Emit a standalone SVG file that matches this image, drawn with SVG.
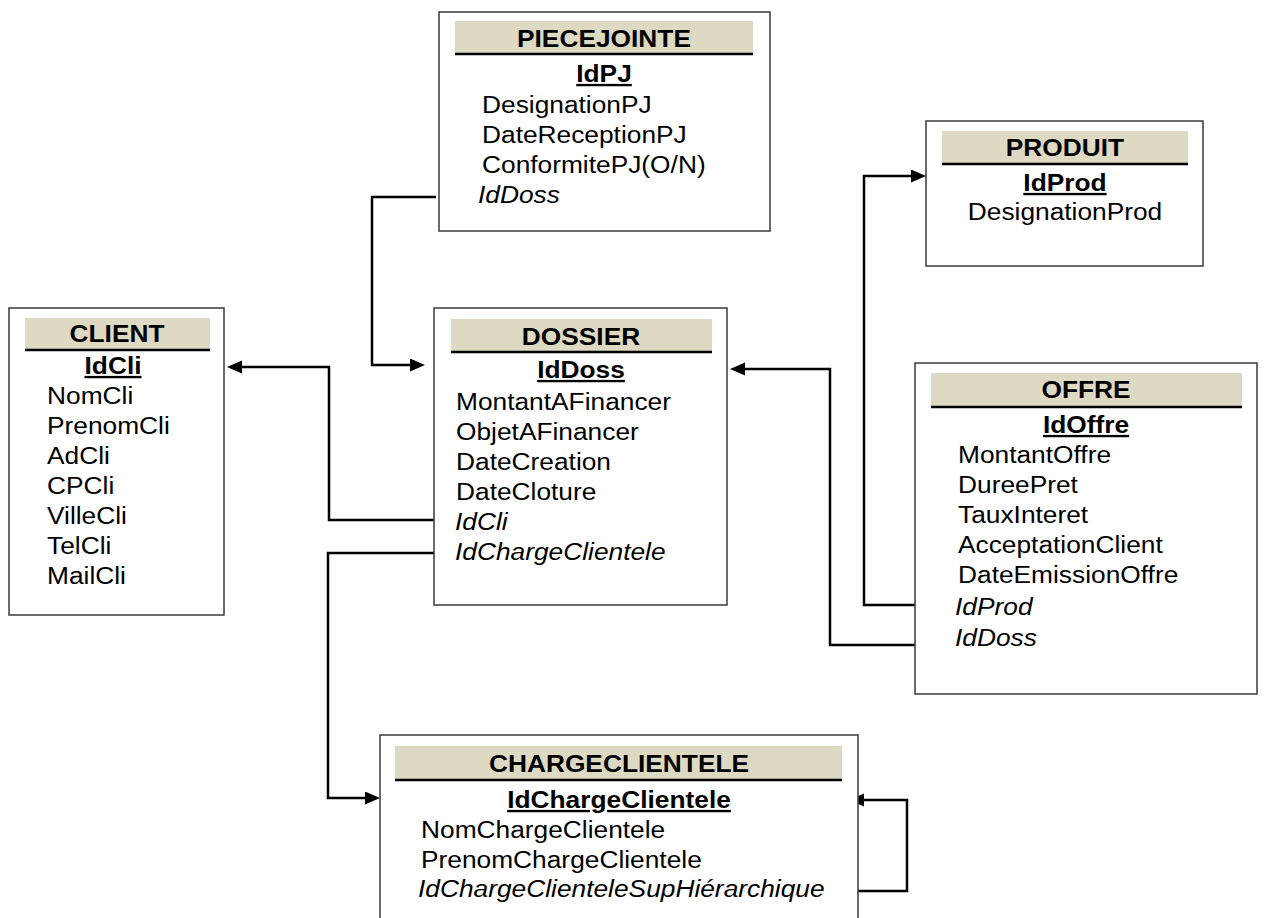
<svg xmlns="http://www.w3.org/2000/svg" width="1265" height="918" viewBox="0 0 1265 918">
<defs>
<style>
.box{fill:#fff;stroke:#3a3a3a;stroke-width:1.5}
.band{fill:#ddd9c3}
.bl{stroke:#000;stroke-width:2.5}
text{font-family:"Liberation Sans",Arial,sans-serif;font-size:23.5px;fill:#000}
.t{font-weight:bold;text-anchor:middle}
.pk{font-weight:bold;text-anchor:middle;text-decoration:underline}
.fk{font-style:italic}
.c{fill:none;stroke:#000;stroke-width:2.5}
</style>
<marker id="ah" markerUnits="userSpaceOnUse" markerWidth="16" markerHeight="14" refX="7" refY="6.5" orient="auto">
<path d="M0,0 L15,6.5 L0,13 z" fill="#000"/>
</marker>
</defs>
<rect width="1265" height="918" fill="#fff"/>

<g id="connectors">
<path class="c" d="M436,197 H372 V365 H417" marker-end="url(#ah)"/>
<path class="c" d="M434,520 H329 V367 H235" marker-end="url(#ah)"/>
<path class="c" d="M434,553 H328 V798 H372" marker-end="url(#ah)"/>
<path class="c" d="M915,605 H864 V176 H918" marker-end="url(#ah)"/>
<path class="c" d="M915,645 H830 V369 H738" marker-end="url(#ah)"/>
<path class="c" d="M858,891 H907 V800 H857" marker-end="url(#ah)"/>
</g>

<g id="piecejointe">
<rect class="box" x="439" y="12" width="331" height="219"/>
<rect class="band" x="455" y="21" width="298" height="33"/>
<line class="bl" x1="455" y1="54" x2="753" y2="54"/>
<text class="t" transform="matrix(1.12 0 0 1 604 47)">PIECEJOINTE</text>
<text class="pk" transform="matrix(1.12 0 0 1 604 82)">IdPJ</text>
<text transform="matrix(1.12 0 0 1 482 113)">DesignationPJ</text>
<text transform="matrix(1.12 0 0 1 482 143)">DateReceptionPJ</text>
<text transform="matrix(1.12 0 0 1 482 173)">ConformitePJ(O/N)</text>
<text class="fk" transform="matrix(1.12 0 0 1 478 203)">IdDoss</text>
</g>

<g id="client">
<rect class="box" x="9" y="308" width="215" height="307"/>
<rect class="band" x="25" y="318" width="185" height="32"/>
<line class="bl" x1="25" y1="350" x2="210" y2="350"/>
<text class="t" transform="matrix(1.12 0 0 1 117 342)">CLIENT</text>
<text class="pk" transform="matrix(1.12 0 0 1 113 374)">IdCli</text>
<text transform="matrix(1.12 0 0 1 47 404)">NomCli</text>
<text transform="matrix(1.12 0 0 1 47 434)">PrenomCli</text>
<text transform="matrix(1.12 0 0 1 47 464)">AdCli</text>
<text transform="matrix(1.12 0 0 1 47 494)">CPCli</text>
<text transform="matrix(1.12 0 0 1 47 524)">VilleCli</text>
<text transform="matrix(1.12 0 0 1 47 554)">TelCli</text>
<text transform="matrix(1.12 0 0 1 47 584)">MailCli</text>
</g>

<g id="dossier">
<rect class="box" x="434" y="308" width="293" height="297"/>
<rect class="band" x="451" y="319" width="261" height="33"/>
<line class="bl" x1="451" y1="352" x2="712" y2="352"/>
<text class="t" transform="matrix(1.12 0 0 1 581 345)">DOSSIER</text>
<text class="pk" transform="matrix(1.12 0 0 1 581 378)">IdDoss</text>
<text transform="matrix(1.12 0 0 1 456 410)">MontantAFinancer</text>
<text transform="matrix(1.12 0 0 1 456 440)">ObjetAFinancer</text>
<text transform="matrix(1.12 0 0 1 456 470)">DateCreation</text>
<text transform="matrix(1.12 0 0 1 456 500)">DateCloture</text>
<text class="fk" transform="matrix(1.12 0 0 1 455 530)">IdCli</text>
<text class="fk" transform="matrix(1.12 0 0 1 455 560)">IdChargeClientele</text>
</g>

<g id="produit">
<rect class="box" x="926" y="121" width="277" height="145"/>
<rect class="band" x="942" y="131" width="246" height="33"/>
<line class="bl" x1="942" y1="164" x2="1188" y2="164"/>
<text class="t" transform="matrix(1.12 0 0 1 1065 156)">PRODUIT</text>
<text class="pk" transform="matrix(1.12 0 0 1 1065 191)">IdProd</text>
<text class="t" style="font-weight:normal" transform="matrix(1.12 0 0 1 1065 220)">DesignationProd</text>
</g>

<g id="offre">
<rect class="box" x="915" y="363" width="342" height="331"/>
<rect class="band" x="931" y="373" width="311" height="34"/>
<line class="bl" x1="931" y1="407" x2="1242" y2="407"/>
<text class="t" transform="matrix(1.12 0 0 1 1086 398)">OFFRE</text>
<text class="pk" transform="matrix(1.12 0 0 1 1086 433)">IdOffre</text>
<text transform="matrix(1.12 0 0 1 958 463)">MontantOffre</text>
<text transform="matrix(1.12 0 0 1 958 493)">DureePret</text>
<text transform="matrix(1.12 0 0 1 958 523)">TauxInteret</text>
<text transform="matrix(1.12 0 0 1 958 553)">AcceptationClient</text>
<text transform="matrix(1.12 0 0 1 958 583)">DateEmissionOffre</text>
<text class="fk" transform="matrix(1.12 0 0 1 955 615)">IdProd</text>
<text class="fk" transform="matrix(1.12 0 0 1 955 646)">IdDoss</text>
</g>

<g id="chargeclientele">
<rect class="box" x="380" y="735" width="478" height="200"/>
<rect class="band" x="395" y="746" width="447" height="34"/>
<line class="bl" x1="395" y1="780" x2="842" y2="780"/>
<text class="t" transform="matrix(1.12 0 0 1 619 772)">CHARGECLIENTELE</text>
<text class="pk" transform="matrix(1.12 0 0 1 619 808)">IdChargeClientele</text>
<text transform="matrix(1.12 0 0 1 421 838)">NomChargeClientele</text>
<text transform="matrix(1.12 0 0 1 421 868)">PrenomChargeClientele</text>
<text class="fk" transform="matrix(1.12 0 0 1 418 897)">IdChargeClienteleSupHiérarchique</text>
</g>
</svg>
